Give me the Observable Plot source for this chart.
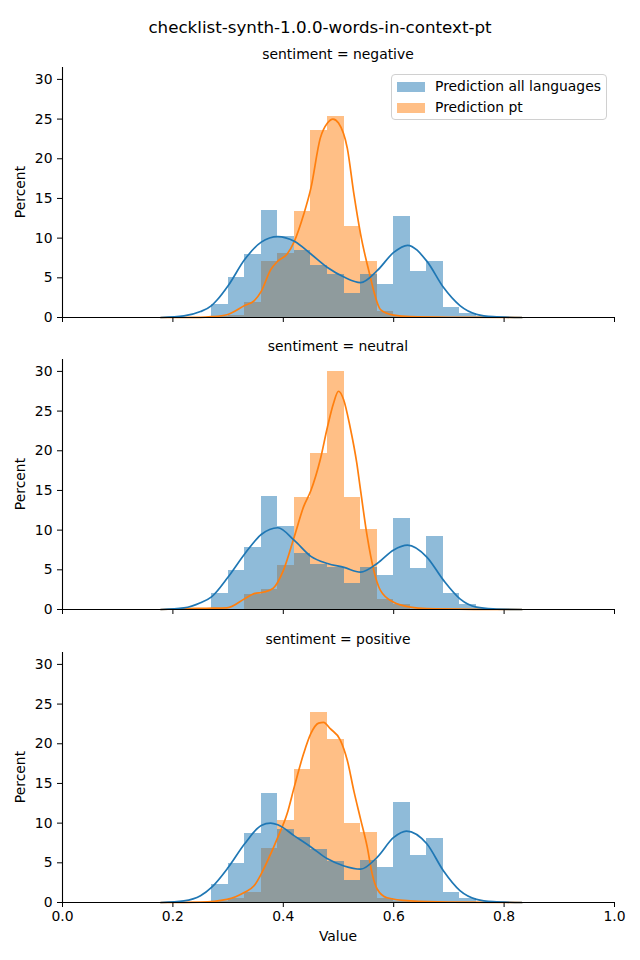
<!DOCTYPE html>
<html><head><meta charset="utf-8">
<script src="https://cdn.jsdelivr.net/npm/d3@7"></script>
<script src="https://cdn.jsdelivr.net/npm/@observablehq/plot@0.6"></script>
<style>
body{margin:0;background:#fff;font-family:"DejaVu Sans",sans-serif;color:#000;}
#fig{position:relative;width:640px;height:960px;overflow:hidden;}
.abs{position:absolute;white-space:nowrap;transform:translate(-50%,-50%);line-height:1;}
.panel{position:absolute;left:0;}
</style></head><body><div id="fig"></div>
<script>
const title = "checklist-synth-1.0.0-words-in-context-pt";
const facets = ["negative", "neutral", "positive"];
const seriesNames = ["Prediction all languages", "Prediction pt"];
const binEdges = [0.18,0.21,0.24,0.27,0.30,0.33,0.36,0.39,0.42,0.45,0.48,0.51,0.54,0.57,0.60,0.63,0.66,0.69,0.72,0.75,0.78,0.81,0.84];
const xTicks = [0, 0.2, 0.4, 0.6, 0.8, 1.0];
const yTicks = [0, 5, 10, 15, 20, 25, 30];

// histogram percents per bin
const allNegative = [0,0,0,1.6,5.1,8.0,13.5,10.25,8.4,6.5,5.4,3.0,5.4,4.1,12.7,5.8,7.1,1.25,0.55,0.1,0,0];
const ptNegative  = [0,0,0,0.1,0.3,1.84,7.1,8.1,13.3,23.6,25.3,11.5,7.1,0.75,0.1,0,0,0,0,0,0,0];
const allNeutral  = [0,0,0,1.98,4.94,7.85,14.3,10.4,7.0,5.7,5.27,3.33,5.27,4.3,11.5,5.2,9.24,2.0,0.63,0.1,0,0];
const ptNeutral   = [0,0,0,0,0,1.86,2.5,5.57,14.05,19.6,30.0,14.1,10.1,1.27,0.6,0,0,0,0,0,0,0];
const allPositive = [0,0,0,2.24,4.9,8.7,13.75,9.2,8.2,6.67,5.15,2.74,5.27,4.4,12.6,5.9,8.06,1.22,0.5,0,0,0];
const ptPositive  = [0,0,0,0.1,0.46,1.3,6.8,10.3,16.8,24.0,20.6,9.96,8.8,0.5,0.1,0,0,0,0,0,0,0];

// KDE curves: [value, percent]
const kdeAllNegative = [[0.178,0],[0.22,0.2],[0.25,0.75],[0.27,1.5],[0.28,2.2],[0.30,4.0],[0.33,7.3],[0.36,9.5],[0.39,10.2],[0.42,9.6],[0.45,8.0],[0.48,6.3],[0.51,5.1],[0.54,4.4],[0.57,5.9],[0.60,8.2],[0.625,9.1],[0.66,7.1],[0.69,3.8],[0.72,1.5],[0.75,0.4],[0.78,0.1],[0.832,0]];
const kdePtNegative = [[0.178,0],[0.25,0.02],[0.27,0.1],[0.298,0.35],[0.33,1.5],[0.347,2.1],[0.36,3.3],[0.377,6.0],[0.39,7.1],[0.407,8.0],[0.42,9.6],[0.437,13],[0.45,16.3],[0.467,22.6],[0.48,24.5],[0.49,25.0],[0.50,24.5],[0.516,21.3],[0.528,15.5],[0.54,10.5],[0.558,5.0],[0.564,3.3],[0.576,1.0],[0.60,0.3],[0.63,0.1],[0.70,0.03],[0.832,0]];
const kdeAllNeutral = [[0.178,0],[0.22,0.2],[0.25,0.85],[0.27,1.6],[0.30,4.1],[0.33,7.0],[0.36,9.45],[0.39,10.3],[0.42,8.7],[0.45,6.7],[0.48,5.8],[0.51,5.3],[0.54,4.7],[0.57,5.8],[0.60,7.5],[0.625,8.1],[0.66,6.6],[0.69,3.7],[0.72,1.35],[0.75,0.3],[0.78,0.08],[0.832,0]];
const kdePtNeutral = [[0.178,0],[0.22,0.1],[0.26,0.15],[0.298,0.2],[0.33,1.35],[0.347,2.0],[0.365,2.2],[0.382,2.7],[0.40,4.9],[0.42,9.2],[0.437,13],[0.45,15],[0.467,18.9],[0.48,23],[0.491,26],[0.50,27.5],[0.509,26.5],[0.521,23],[0.533,18.5],[0.54,15],[0.552,9.2],[0.564,4.9],[0.576,2.4],[0.60,0.9],[0.63,0.3],[0.66,0.1],[0.75,0.02],[0.832,0]];
const kdeAllPositive = [[0.178,0],[0.22,0.2],[0.25,0.85],[0.27,1.9],[0.30,4.4],[0.33,7.4],[0.36,9.7],[0.377,10.0],[0.39,9.8],[0.42,8.4],[0.45,7.0],[0.48,5.5],[0.51,4.6],[0.54,4.2],[0.57,5.7],[0.60,8.2],[0.623,9.0],[0.66,7.4],[0.69,4.0],[0.72,1.5],[0.75,0.4],[0.78,0.1],[0.832,0]];
const kdePtPositive = [[0.178,0],[0.25,0.05],[0.298,0.4],[0.33,1.3],[0.347,2.1],[0.36,3.6],[0.377,6.1],[0.39,8.2],[0.407,11.2],[0.42,14.6],[0.437,18.8],[0.45,21.3],[0.464,22.6],[0.473,22.7],[0.485,21.9],[0.503,20.5],[0.516,17.9],[0.528,14],[0.54,10.5],[0.552,7],[0.561,3.6],[0.570,1.7],[0.588,0.6],[0.63,0.2],[0.70,0.05],[0.832,0]];

const allSeries = [allNegative, allNeutral, allPositive];
const ptSeries = [ptNegative, ptNeutral, ptPositive];
const kdeAll = [kdeAllNegative, kdeAllNeutral, kdeAllPositive];
const kdePt = [kdePtNegative, kdePtNeutral, kdePtPositive];

const BLUE = "#1f77b4", ORANGE = "#ff7f0e";
const FONT = "'DejaVu Sans', sans-serif";
const fig = document.getElementById("fig");

function addText(txt, x, y, size, rotate) {
  const d = document.createElement("div");
  d.className = "abs";
  d.textContent = txt;
  d.style.left = x + "px";
  d.style.top = y + "px";
  d.style.fontSize = size + "px";
  if (rotate) d.style.transform = "translate(-50%,-50%) rotate(-90deg)";
  fig.appendChild(d);
}

const panelTops = [67, 359, 652];
const PH = 250;

function rows(vals) {
  return vals.map((v, j) => ({x1: binEdges[j], x2: binEdges[j + 1], v}));
}

facets.forEach((f, i) => {
  const bottom = i === facets.length - 1;
  const svg = Plot.plot({
    width: 640,
    height: 10 + PH + (bottom ? 32 : 10),
    marginLeft: 62, marginRight: 26, marginTop: 10, marginBottom: bottom ? 32 : 10,
    x: {domain: [0, 1]},
    y: {domain: [0, 31.5]},
    style: {fontFamily: FONT, fontSize: "13.9px", background: "transparent", color: "#000", overflow: "visible"},
    marks: [
      Plot.rect(rows(ptSeries[i]), {x1: "x1", x2: "x2", y1: d => 0, y2: "v", fill: ORANGE, fillOpacity: 0.5, inset: 0, shapeRendering: "crispEdges"}),
      Plot.rect(rows(allSeries[i]), {x1: "x1", x2: "x2", y1: d => 0, y2: "v", fill: BLUE, fillOpacity: 0.5, inset: 0, shapeRendering: "crispEdges"}),
      Plot.line(kdePt[i], {x: d => d[0], y: d => d[1], stroke: ORANGE, strokeWidth: 1.7, curve: "monotone-x"}),
      Plot.line(kdeAll[i], {x: d => d[0], y: d => d[1], stroke: BLUE, strokeWidth: 1.7, curve: "monotone-x"}),
      Plot.axisY({ticks: yTicks, tickSize: 5, tickPadding: 5, label: null, tickFormat: d => String(d)}),
      Plot.axisX({ticks: xTicks, tickSize: 5, tickPadding: 4, label: null, tickFormat: bottom ? (d => d.toFixed(1)) : (() => "")}),
      Plot.ruleX([0], {strokeWidth: 1.1}),
      Plot.ruleY([0], {strokeWidth: 1.1})
    ]
  });
  svg.classList.add("panel");
  svg.style.top = (panelTops[i] - 10) + "px";
  fig.appendChild(svg);
  addText("sentiment = " + f, 338, panelTops[i] - 12, 13.9);
  addText("Percent", 21, panelTops[i] + PH / 2, 13.9, true);
});

addText(title, 320, 27, 16.7);
addText("Value", 338, 937, 13.9);

// legend
const leg = document.createElement("div");
leg.style.cssText = "position:absolute;left:391px;top:74px;width:216px;height:46px;border:1px solid #d0d0d0;border-radius:4px;background:rgba(255,255,255,0.8);box-sizing:border-box;";
fig.appendChild(leg);
[BLUE, ORANGE].forEach((c, k) => {
  const p = document.createElement("div");
  p.style.cssText = `position:absolute;left:397px;top:${82 + k * 21}px;width:28px;height:10px;background:${c};opacity:0.5;`;
  fig.appendChild(p);
  const t = document.createElement("div");
  t.style.cssText = `position:absolute;left:435px;top:${87 + k * 21}px;transform:translateY(-50%);font-size:13.9px;line-height:1;white-space:nowrap;`;
  t.textContent = seriesNames[k];
  fig.appendChild(t);
});
</script></body></html>
